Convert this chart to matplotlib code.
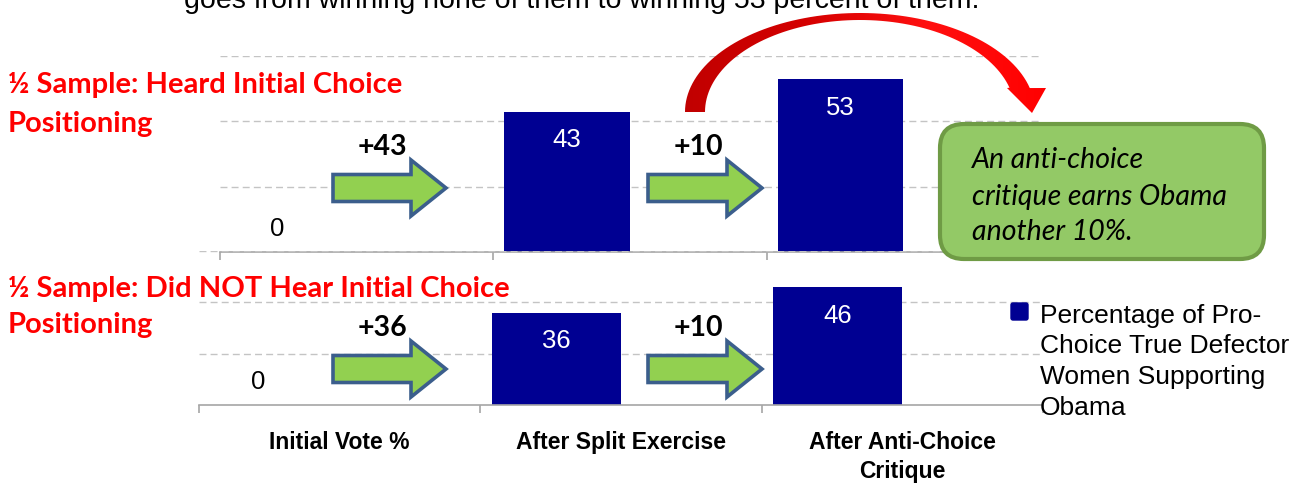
import matplotlib
matplotlib.use("Agg")
import matplotlib.pyplot as plt
import matplotlib.patches as mpatches
from matplotlib.path import Path
from matplotlib.colors import LinearSegmentedColormap
import numpy as np

categories = ["Initial Vote %", "After Split Exercise", "After Anti-Choice\nCritique"]
heard_values = [0, 43, 53]
not_heard_values = [0, 36, 46]
panel_titles = [["½ Sample: Heard Initial Choice", "Positioning"],
                ["½ Sample: Did NOT Hear Initial Choice", "Positioning"]]
legend_label = ["Percentage of Pro-", "Choice True Defector", "Women Supporting", "Obama"]
callout_lines = ["An anti-choice", "critique earns Obama", "another 10%."]
top_note = "goes from winning none of them to winning 53 percent of them."
y_grid = [20, 40, 60]

BAR_COLOR = "#000092"
GRID_COLOR = "#C4C4C4"
AXIS_COLOR = "#A6A6A6"
ARROW_FILL = "#92D050"
ARROW_EDGE = "#3B5E8C"
ARIAL = "Liberation Sans"
CALIBRI = "Lato"

W, H = 1307, 485
fig = plt.figure(figsize=(W / 100, H / 100), dpi=100)


def px_axes(left, top, right, bottom):
    # axes placed by pixel box (origin top-left)
    return fig.add_axes([left / W, 1 - bottom / H, (right - left) / W, (bottom - top) / H])


ax_top = px_axes(220, 57, 1040, 253)
ax_bot = px_axes(199, 252, 1043, 406)

x = np.arange(len(categories))
bar_w = 0.46

for ax, vals in [(ax_top, heard_values), (ax_bot, not_heard_values)]:
    ax.set_facecolor("none")
    ax.set_xlim(-0.5, len(categories) - 0.5)
    ax.set_ylim(0, 60)
    for g in y_grid:
        ax.axhline(g, color=GRID_COLOR, lw=1, ls=(0, (5, 3)), zorder=0)
    bars = ax.bar(x - bar_w, vals, width=bar_w, align="edge", color=BAR_COLOR, zorder=2)
    for rect, v in zip(bars, vals):
        cx = rect.get_x() + rect.get_width() / 2
        if v > 0:
            ax.annotate(str(v), (cx, v), xytext=(0, -20), textcoords="offset points",
                        ha="center", va="center", color="white", fontsize=18.5, family=ARIAL)
        else:
            ax.annotate(str(v), (cx, v), xytext=(-12, 17), textcoords="offset points",
                        ha="center", va="center", color="black", fontsize=18.5, family=ARIAL)
    for s in ["top", "right", "left"]:
        ax.spines[s].set_visible(False)
    ax.spines["bottom"].set_color(AXIS_COLOR)
    ax.spines["bottom"].set_linewidth(1.2)
    ax.set_yticks([])
    ax.set_xticks(np.arange(len(categories) + 1) - 0.5)
    ax.set_xticklabels([])
    ax.tick_params(axis="x", which="major", length=6, width=1.2, color=AXIS_COLOR)

ax_bot.set_xticks(x, categories, minor=True)
ax_bot.tick_params(axis="x", which="minor", length=0, pad=18)
for lbl in ax_bot.get_xticklabels(minor=True):
    lbl.set_fontweight("bold")
    lbl.set_fontsize(16.5)
    lbl.set_family(ARIAL)
    lbl.set_linespacing(1.35)

# overlay in pixel coordinates for the slide decorations
deco = fig.add_axes([0, 0, 1, 1])
deco.set_facecolor("none")
deco.axis("off")

# cut-off sentence at top of slide
deco.text(184, 8, top_note, fontsize=20.5, family=ARIAL, va="baseline", ha="left")

# red panel headings
for lines, baselines in zip(panel_titles, [[93, 132], [297, 333]]):
    for line, yb in zip(lines, baselines):
        deco.text(8, yb, line, color="#FF0000", fontsize=21, fontweight="bold",
                  family=CALIBRI, va="baseline", ha="left")

# green block arrows with the gain above each
gains = [np.diff(heard_values), np.diff(not_heard_values)]
arrow_rows = [189, 370]
arrow_spans = [(333, 446), (648, 762)]
for yrow, row_gains in zip(arrow_rows, gains):
    for (xa, xb), g in zip(arrow_spans, row_gains):
        deco.add_patch(mpatches.FancyArrow(xa, yrow, xb - xa, 0, width=27, head_width=56,
                                           head_length=35, length_includes_head=True,
                                           fc=ARROW_FILL, ec=ARROW_EDGE, lw=2.6, joinstyle="miter"))
        deco.text((xa + xb) / 2 - 7, yrow - 42, f"+{g}", fontsize=20.5, fontweight="bold",
                  family=CALIBRI, ha="center", va="center")

# red curved arrow
cx, cy = 860, 113
t_out = np.linspace(np.pi, np.radians(14), 80)
t_in = np.linspace(np.radians(15.3), np.pi, 80)
outer = np.column_stack([cx + 175 * np.cos(t_out), cy - 99 * np.sin(t_out)])
inner = np.column_stack([cx + 155 * np.cos(t_in), cy - 92 * np.sin(t_in)])
head = np.array([[1046, 89], [1032, 114], [1007, 89]])
verts = np.vstack([outer, head, inner, outer[:1]])
arc_path = Path(verts, closed=True)
arc_patch = mpatches.PathPatch(arc_path, fc="none", ec="none")
deco.add_patch(arc_patch)
red_cmap = LinearSegmentedColormap.from_list("reds", ["#C00000", "#D40000", "#FF1010", "#FF0000"])
grad = np.linspace(0, 1, 256).reshape(1, -1)
deco.imshow(grad, extent=(680, 1050, 120, 10), cmap=red_cmap, aspect="auto",
            clip_path=arc_patch, zorder=3)

# callout box
deco.add_patch(mpatches.FancyBboxPatch((940, 125), 324, 135,
                                       boxstyle="round,pad=0,rounding_size=24",
                                       fc="#93C966", ec="#6F9B45", lw=3, zorder=4))
for line, yb in zip(callout_lines, [168, 205, 240]):
    deco.text(972, yb, line, fontsize=20.5, style="italic", family=CALIBRI,
              va="baseline", ha="left", zorder=5)

# legend
deco.add_patch(mpatches.FancyBboxPatch((1011, 304), 17, 17, boxstyle="round,pad=0,rounding_size=2",
                                       fc=BAR_COLOR, ec=BAR_COLOR, lw=1))
for line, yb in zip(legend_label, [323, 353, 384, 415]):
    deco.text(1040, yb, line, fontsize=19, family=ARIAL, va="baseline", ha="left")

deco.set_xlim(0, W)
deco.set_ylim(H, 0)

fig.savefig("out.png", dpi=100, facecolor="white")
